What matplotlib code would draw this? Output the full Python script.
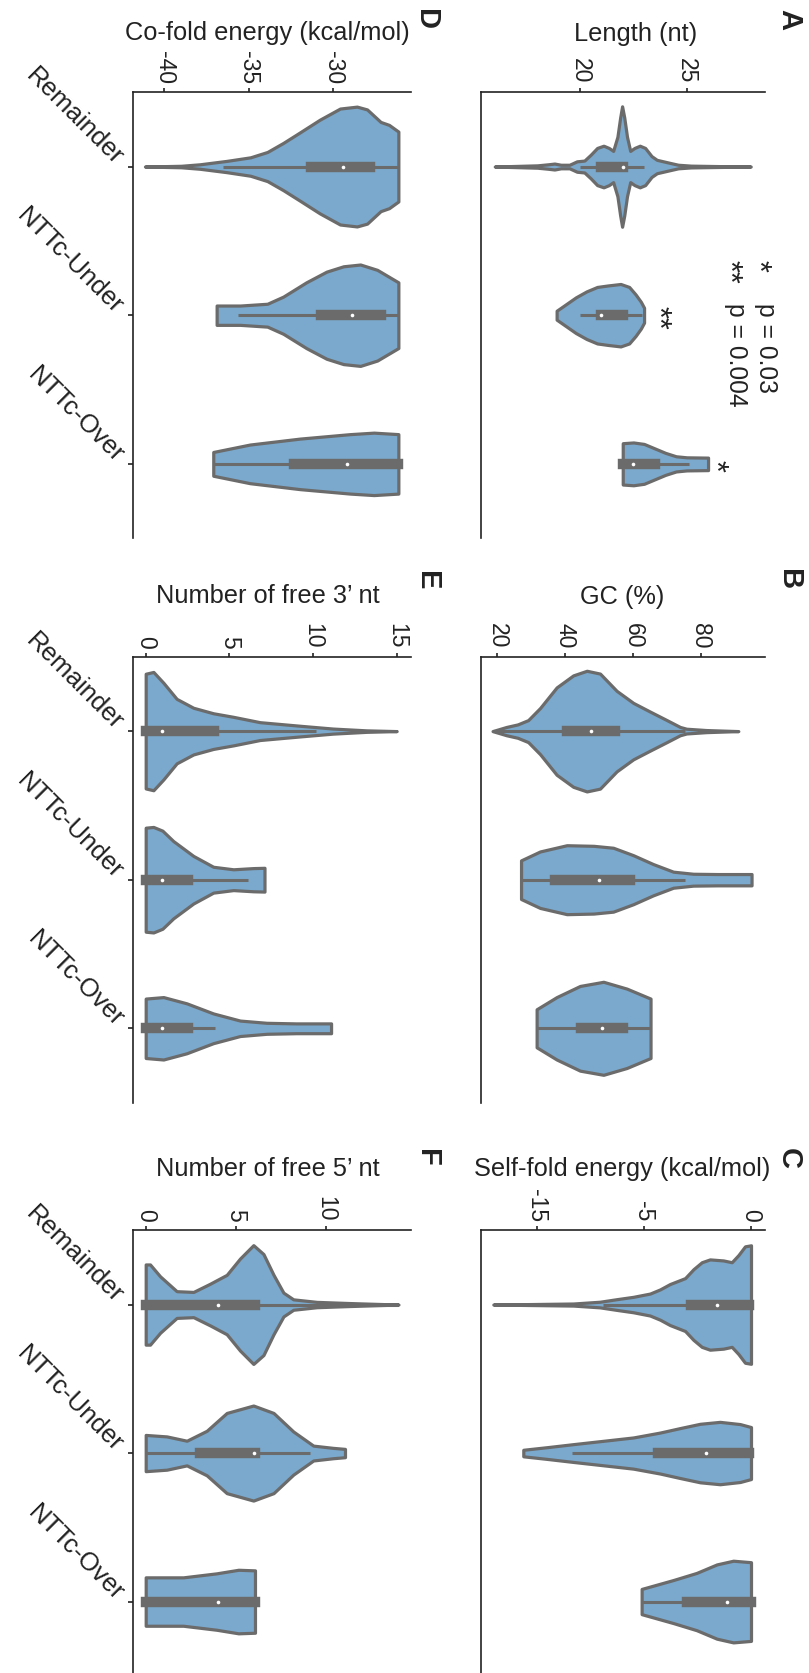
import numpy as np
import matplotlib.pyplot as plt

plt.rcParams['font.family'] = ['Liberation Sans', 'DejaVu Sans']

W, H = 809, 1673
FILL = '#7aa9cd'
EDGE = '#6b6b6b'
INK = '#222222'

categories = ["Remainder", "NTTc-Under", "NTTc-Over"]

# === Violin outlines: value points and half-widths (category units)
# --- A: length (nt)
len_vals = [
    [16.0, 17.0, 18.0, 18.5, 18.8, 19.1, 19.5, 19.85, 20.2, 20.5, 20.8, 21.1, 21.35, 21.55, 21.75,
     21.88, 21.97, 22.07, 22.2, 22.35, 22.55, 22.8, 23.05, 23.35, 23.6, 23.9, 24.2, 24.6, 25.2, 26.5, 28.0],
    [18.9, 19.3, 19.8, 20.3, 20.8, 21.3, 21.9, 22.3, 22.6, 22.85, 23.0],
    [22.0, 22.5, 23.0, 23.5, 24.0, 24.5, 25.0, 26.0],
]
len_widths = [
    [0.0, 0.004, 0.008, 0.015, 0.02, 0.012, 0.012, 0.035, 0.04, 0.08, 0.125, 0.14, 0.125, 0.105, 0.2,
     0.33, 0.405, 0.33, 0.2, 0.105, 0.125, 0.14, 0.125, 0.07, 0.045, 0.035, 0.025, 0.012, 0.006, 0.003, 0.0],
    [0.03, 0.07, 0.12, 0.16, 0.19, 0.2, 0.21, 0.19, 0.14, 0.09, 0.05],
    [0.139, 0.144, 0.134, 0.104, 0.074, 0.051, 0.044, 0.042],
]
# whisker low, Q1, median, Q3, whisker high
len_box = [(20, 21, 22, 22, 23), (20, 21, 21, 22, 22.9), (22, 22, 22.5, 23.5, 25.1)]

# --- B: GC (%)
gc_vals = [
    [18.6, 22.7, 26.0, 29.1, 32.6, 37.5, 42.4, 46.4, 50.3, 55.2, 60.1, 65.0, 70.0, 73.9, 75.8, 81.7, 91.1],
    [27.0, 32.6, 40.5, 48.4, 54.2, 60.1, 66.0, 71.9, 77.8, 85.0, 95.0],
    [31.6, 37.5, 44.4, 51.3, 58.2, 65.2],
]
gc_widths = [
    [0.0, 0.028, 0.045, 0.074, 0.155, 0.294, 0.375, 0.406, 0.387, 0.271, 0.19, 0.132, 0.074, 0.028, 0.016, 0.007, 0.0],
    [0.13, 0.19, 0.232, 0.228, 0.215, 0.165, 0.105, 0.054, 0.04, 0.038, 0.038],
    [0.128, 0.21, 0.285, 0.313, 0.267, 0.2],
]
gc_box = [(18.6, 40.7, 47.6, 54.7, 75.5), (27, 37, 50, 59.1, 75.4), (31.6, 44.7, 51, 57, 65.2)]

# --- C: self-fold energy
self_vals = [
    [-12.04, -8.3, -7.06, -6.28, -5.5, -4.72, -4.25, -3.79, -3.08, -2.69, -2.3, -1.92, -1.29, -0.9, -0.59, -0.28, 0.0],
    [-10.64, -9.5, -8.3, -6.74, -5.5, -4.25, -3.32, -2.38, -1.45, -0.51, 0.0],
    [-5.11, -3.63, -2.54, -1.6, -0.83, 0.0],
]
self_widths = [
    [0.0, 0.007, 0.019, 0.036, 0.052, 0.074, 0.102, 0.138, 0.178, 0.238, 0.285, 0.304, 0.297, 0.285, 0.333, 0.392, 0.399],
    [0.022, 0.04, 0.06, 0.085, 0.105, 0.138, 0.168, 0.197, 0.21, 0.195, 0.175],
    [0.085, 0.145, 0.193, 0.25, 0.275, 0.265],
]
self_box = [(-6.9, -2.8, -1.6, -0.09, 0.0), (-8.38, -4.33, -2.12, -0.1, 0.0), (-5.11, -2.98, -1.1, 0.0, 0.0)]

# --- D: co-fold energy
co_vals = [
    [-41.14, -39.0, -37.9, -36.3, -34.9, -33.9, -32.96, -31.97, -30.8, -29.6, -28.6, -28.0, -27.2, -26.7, -26.15],
    [-36.9, -35.5, -33.9, -32.96, -31.6, -30.4, -29.4, -28.4, -27.4, -26.15],
    [-37.1, -34.93, -31.97, -29.0, -27.6, -26.15],
]
co_widths = [
    [0.0, 0.005, 0.015, 0.038, 0.062, 0.098, 0.159, 0.23, 0.315, 0.39, 0.403, 0.384, 0.3, 0.28, 0.235],
    [0.065, 0.065, 0.077, 0.125, 0.221, 0.293, 0.329, 0.341, 0.305, 0.221],
    [0.08, 0.13, 0.17, 0.2, 0.21, 0.2],
]
co_box = [(-36.5, -31.3, -29.4, -27.83, -26.15), (-35.66, -30.73, -28.9, -27.18, -26.15),
          (-37.1, -32.3, -29.2, -26.15, -26.15)]

# --- E: free 3' nt
f3_vals = [
    [0.0, 0.46, 1.06, 1.85, 2.85, 4.04, 5.24, 6.83, 9.22, 11.2, 13.2, 15.0],
    [0.0, 0.46, 1.0, 1.65, 2.85, 4.04, 5.24, 6.43, 7.1],
    [0.0, 1.06, 2.45, 4.04, 5.64, 7.23, 9.0, 11.08],
]
f3_widths = [
    [0.386, 0.398, 0.325, 0.217, 0.157, 0.12, 0.096, 0.06, 0.036, 0.017, 0.005, 0.0],
    [0.35, 0.355, 0.33, 0.26, 0.16, 0.087, 0.07, 0.078, 0.08],
    [0.2, 0.21, 0.168, 0.1, 0.052, 0.037, 0.033, 0.033],
]
f3_box = [(0, 0, 1, 4.08, 10.2), (0, 0, 1, 2.55, 6.14), (0, 0, 1, 2.55, 4.14)]

# --- F: free 5' nt
f5_vals = [
    [0.0, 0.24, 0.8, 1.72, 2.65, 3.57, 4.5, 5.24, 5.98, 6.54, 7.1, 7.65, 8.2, 9.5, 11.35, 14.04],
    [0.0, 1.17, 2.28, 3.39, 4.5, 5.98, 7.1, 8.2, 9.31, 10.4, 11.07],
    [0.0, 2.09, 3.94, 5.15, 6.07],
]
f5_widths = [
    [0.27, 0.27, 0.19, 0.09, 0.085, 0.14, 0.2, 0.31, 0.4, 0.34, 0.2, 0.08, 0.035, 0.018, 0.01, 0.0],
    [0.122, 0.112, 0.083, 0.15, 0.27, 0.32, 0.27, 0.145, 0.05, 0.035, 0.028],
    [0.163, 0.163, 0.19, 0.214, 0.21],
]
f5_box = [(0, 0, 4.04, 6.07, 14.04), (0, 3.02, 6.02, 6.07, 9.1), (0, 0, 4.04, 6.07, 6.07)]

# === Panels (layout in pixels of the portrait page)
panels = [
    # letter, label, vals, widths, box, ticks, ticklabels, xlim, axes px box, label pos, letter pos, show categories
    ("A", "Length (nt)", len_vals, len_widths, len_box, [20, 25], ["20", "25"], (15.34, 28.67),
     (480.7, 92.2, 765, 538.2), (636, 40.7), (789, 19.5), False),
    ("B", "GC (%)", gc_vals, gc_widths, gc_box, [20, 40, 60, 80], ["20", "40", "60", "80"], (15.1, 98.97),
     (480.7, 656.8, 765, 1102.6), (622.5, 604), (789, 580), False),
    ("C", "Self-fold energy (kcal/mol)", self_vals, self_widths, self_box, [-10, -5, 0], ["-15", "-5", "0"],
     (-12.63, 0.654), (480.7, 1230.3, 765, 1675.8), (621.7, 1176), (789, 1158), False),
    ("D", "Co-fold energy (kcal/mol)", co_vals, co_widths, co_box, [-40, -35, -30], ["-40", "-35", "-30"],
     (-41.83, -25.42), (133.3, 92.2, 410.7, 538.2), (267.5, 40), (426.5, 19.6), True),
    ("E", "Number of free 3\u2019 nt", f3_vals, f3_widths, f3_box, [0, 5, 10, 15], ["0", "5", "10", "15"],
     (-0.741, 15.84), (133.3, 656.8, 410.7, 1102.6), (268.3, 602.9), (427, 581), True),
    ("F", "Number of free 5\u2019 nt", f5_vals, f5_widths, f5_box, [0, 5, 10], ["0", "5", "10"],
     (-0.689, 14.72), (133.3, 1230.3, 410.7, 1675.8), (268.3, 1176), (427, 1158), True),
]

fig = plt.figure(figsize=(W / 100, H / 100), dpi=100)


def fx(x):
    return x / W


def fy(y):
    return 1 - y / H


for letter, label, vals, widths, boxes, ticks, tlabels, xlim, rect, lab_xy, let_xy, show_cat in panels:
    x0, y0, x1, y1 = rect
    ax = fig.add_axes([fx(x0), fy(y1), (x1 - x0) / W, (y1 - y0) / H])

    for i in range(3):
        v = np.array(vals[i])
        w = np.array(widths[i])
        ax.fill_between(v, i - w, i + w, facecolor=FILL, edgecolor=EDGE, lw=2.3,
                        joinstyle='round', zorder=2)
        wlo, q1, med, q3, whi = boxes[i]
        ax.plot([wlo, whi], [i, i], color=EDGE, lw=2.2, solid_capstyle='butt', zorder=3)
        ax.plot([q1, q3], [i, i], color=EDGE, lw=7.5, solid_capstyle='projecting', zorder=3)
        ax.plot([med], [i], 'o', color='white', ms=2.6, mew=0, zorder=4)

    ax.set_xlim(*xlim)
    ax.set_ylim(2.5, -0.5)

    for s in ['right', 'bottom']:
        ax.spines[s].set_visible(False)
    for s in ['top', 'left']:
        ax.spines[s].set_linewidth(1.2)
        ax.spines[s].set_color(INK)

    ax.xaxis.tick_top()
    ax.set_xticks(ticks)
    ax.set_xticklabels(tlabels)
    ax.tick_params(axis='x', top=True, bottom=False, labeltop=True, labelbottom=False,
                   length=2.6, width=1.2, color=INK, pad=3.5, labelsize=16.5,
                   labelcolor=INK, labelrotation=-90)

    ax.set_yticks([0, 1, 2])
    if show_cat:
        ax.set_yticklabels(categories, fontsize=18.5, color=INK)
        ax.tick_params(axis='y', length=3.6, width=1.2, color=INK, pad=10)
        plt.setp(ax.get_yticklabels(), rotation=-45, rotation_mode='anchor', ha='right', va='baseline')
    else:
        ax.tick_params(axis='y', left=False, labelleft=False)

    fig.text(fx(lab_xy[0]), fy(lab_xy[1]), label, ha='center', va='baseline', fontsize=18.3, color=INK)
    fig.text(fx(let_xy[0]), fy(let_xy[1]), letter, ha='center', va='center', rotation=-90,
             fontsize=21, fontweight='bold', color=INK)

# === significance marks (panel A)
fig.text(fx(657), fy(317.5), "**", ha='center', va='center', rotation=-90, fontsize=22, color=INK)
fig.text(fx(714), fy(466), "*", ha='center', va='center', rotation=-90, fontsize=22, color=INK)
fig.text(fx(757), fy(260.5), "*", ha='center', va='top', rotation=-90, fontsize=22, color=INK)
fig.text(fx(765.5), fy(303), "p = 0.03", ha='center', va='top', rotation=-90, fontsize=17.7, color=INK)
fig.text(fx(728), fy(260.5), "**", ha='center', va='top', rotation=-90, fontsize=22, color=INK)
fig.text(fx(735.5), fy(303), "p = 0.004", ha='center', va='top', rotation=-90, fontsize=17.7, color=INK)

fig.savefig("out.png", dpi=100)
